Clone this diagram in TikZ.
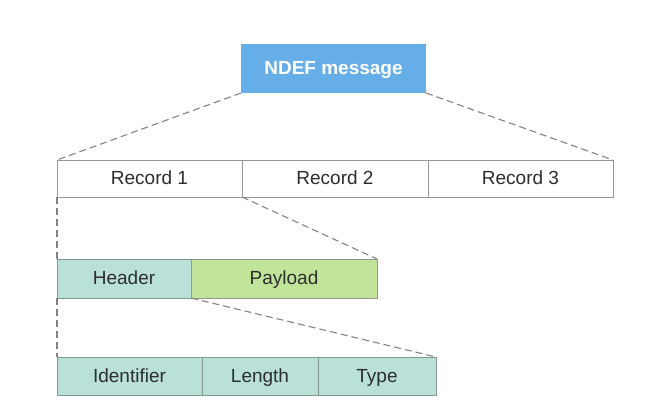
\documentclass[tikz,border=0pt]{standalone}
\usepackage{fontspec}
\setmainfont{Liberation Sans}
\definecolor{ndefBlue}{RGB}{102,174,232}
\definecolor{hdrTeal}{RGB}{185,225,218}
\definecolor{payGreen}{RGB}{193,228,155}
\definecolor{boxGray}{RGB}{150,150,150}
\definecolor{tealGray}{RGB}{130,150,146}
\definecolor{txtGray}{RGB}{45,45,45}
\definecolor{dashGray}{RGB}{130,130,130}

\tikzstyle{tS}=[inner sep = 0pt,outer sep = 0pt,text height=14pt,text depth=1.5pt,font=\fontsize{19}{22}\selectfont]
\tikzstyle{mS}=[tS,fill=ndefBlue,minimum width = 185pt,minimum height = 49pt,text=white,font=\fontsize{19}{22}\selectfont\bfseries]
\tikzstyle{rS}=[tS,draw=boxGray,line width=1pt,fill=white,minimum height = 37pt,text=txtGray]
\tikzstyle{hS}=[tS,draw=tealGray,line width=1pt,fill=hdrTeal,minimum height = 39pt,text=txtGray]
\tikzstyle{pS}=[hS,fill=payGreen,draw=boxGray]
\tikzstyle{eD}=[draw=dashGray,line width=1.1pt,dash pattern=on 7pt off 4pt]

\begin{document}
\begin{tikzpicture}[x=1pt,y=-1pt]
    \useasboundingbox (0,0) rectangle (660,415);
    \draw (333.5,68.5) node[mS] (ndef) {NDEF message};

    \draw (149.5,178.5) node[rS,minimum width=185pt] (rec1) {Record 1};
    \draw (335,178.5) node[rS,minimum width=186pt] (rec2) {Record 2};
    \draw (520.5,178.5) node[rS,minimum width=185pt] (rec3) {Record 3};

    \draw (124,278.5) node[hS,minimum width=134pt] (hdr) {Header};
    \draw (284,278.5) node[pS,minimum width=186pt] (pay) {Payload};

    \draw (129.5,376) node[hS,minimum width=145pt,minimum height=38pt] (ident) {Identifier};
    \draw (260,376) node[hS,minimum width=116pt,minimum height=38pt] (len) {Length};
    \draw (377,376) node[hS,minimum width=118pt,minimum height=38pt] (typ) {Type};

    \path
        (ndef.south west) edge[eD] (rec1.north west)
        (ndef.south east) edge[eD] (rec3.north east)
        (rec1.south west) edge[eD] (hdr.north west)
        (rec1.south east) edge[eD] (pay.north east)
        (hdr.south west) edge[eD] (ident.north west)
        (hdr.south east) edge[eD] (typ.north east)
    ;
\end{tikzpicture}
\end{document}
